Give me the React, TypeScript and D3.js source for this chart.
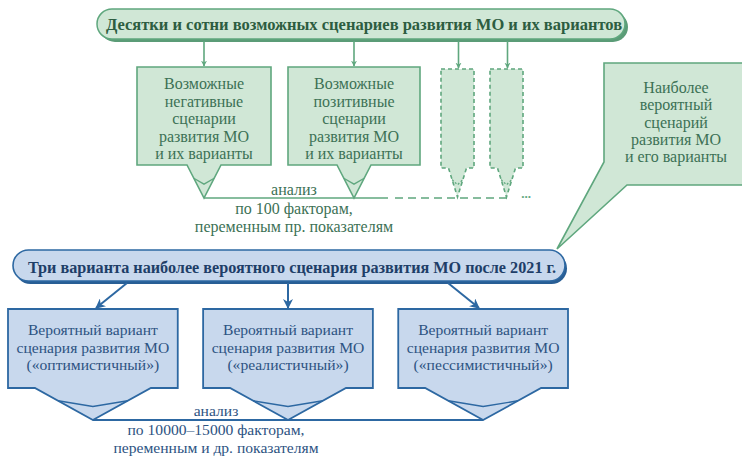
import React from 'react';
import * as d3 from 'd3';

// Texts of the scheme
const TOP_TITLE = 'Десятки и сотни возможных сценариев развития МО и их вариантов';
const GREEN_BOXES = [
  ['Возможные', 'негативные', 'сценарии', 'развития МО', 'и их варианты'],
  ['Возможные', 'позитивные', 'сценарии', 'развития МО', 'и их варианты'],
];
const DASHED_BOX_COUNT = 2;
const GREEN_ANALYSIS = ['анализ', 'по 100 факторам,', 'переменным пр. показателям'];
const CALLOUT_LINES = ['Наиболее', 'вероятный', 'сценарий', 'развития МО', 'и его варианты'];
const BOTTOM_TITLE = 'Три варианта наиболее вероятного сценария развития МО после 2021 г.';
const BLUE_BOXES = [
  ['Вероятный вариант', 'сценария развития МО', '(«оптимистичный»)'],
  ['Вероятный вариант', 'сценария развития МО', '(«реалистичный»)'],
  ['Вероятный вариант', 'сценария развития МО', '(«пессимистичный»)'],
];
const BLUE_ANALYSIS = ['анализ', 'по 10000–15000 факторам,', 'переменным и др. показателям'];

const W = 742;
const H = 456;
const FONT = "'Liberation Serif'";

const G = { fill: '#d0e7d6', stroke: '#5fa77e', text: '#3c7155', title: '#2d5d41', shadow: '#5b9c77' };
const B = { fill: '#c8d8ed', stroke: '#2d68a2', text: '#2d5382', title: '#1e3e68', shadow: '#285e95' };

const line = d3.line<[number, number]>();

// box with a pointer at the bottom, plus the little fold inside it
const pointerBox = (x0: number, x1: number, y0: number, yb: number, hw: number, tip: number) => {
  const cx = (x0 + x1) / 2;
  const outline = line([[x0, y0], [x1, y0], [x1, yb], [cx + hw, yb], [cx, tip], [cx - hw, yb], [x0, yb]]) + 'Z';
  const f = 0.4;
  const fy = yb + (tip - yb) * f;
  const fold = line([[cx - hw * (1 - f), fy], [cx, yb + (tip - yb) * 0.58], [cx + hw * (1 - f), fy]]);
  return { outline, fold, cx };
};

const Lines = ({ lines, x, y, step, color, size = 16 }: any) => (
  <g>
    {lines.map((t: string, i: number) => (
      <text key={i} x={x} y={y + i * step} textAnchor="middle" fill={color}
        fontFamily={FONT} fontSize={size}>{t}</text>
    ))}
  </g>
);

const Arrow = ({ x1, y1, x2, y2, color, id, w = 1.6 }: any) => (
  <line x1={x1} y1={y1} x2={x2} y2={y2} stroke={color} strokeWidth={w} markerEnd={`url(#${id})`} />
);

export default function App() {
  // columns of the green row
  const gx = d3.scaleOrdinal<number, [number, number]>()
    .domain([0, 1]).range([[137, 271], [288, 420]]);
  const dx = d3.scaleOrdinal<number, [number, number]>()
    .domain([0, 1]).range([[441, 474], [490, 523]]);
  // columns of the blue row
  const bx = d3.scaleBand<number>().domain([0, 1, 2]).range([8, 568]).paddingInner(0.13);

  const greenShapes = GREEN_BOXES.map((_, i) => pointerBox(gx(i)[0], gx(i)[1], 67, 165, 17, 198));
  const dashedShapes = d3.range(DASHED_BOX_COUNT).map(i => pointerBox(dx(i)[0], dx(i)[1], 69, 168, 9, 197));
  const blueShapes = BLUE_BOXES.map((_, i) => pointerBox(bx(i)!, bx(i)! + bx.bandwidth(), 309, 388, 58, 420));

  const bluePill = { x: 13, y: 250, w: 552, h: 31 };
  const greenPill = { x: 97, y: 9, w: 528, h: 30 };
  const blueArrowStarts: [number, number][] = [[127, 283], [blueShapes[1].cx, 283], [448, 283]];
  const blueArrowEnds: [number, number][] = [[96, 308], [blueShapes[1].cx, 308], [479, 308]];

  return (
    <svg width={W} height={H} style={{ position: 'absolute', left: 0, top: 0, background: '#fff' }}>
      <defs>
        <marker id="ag" viewBox="0 0 10 10" refX="9" refY="5" markerWidth="6" markerHeight="7" orient="auto" markerUnits="userSpaceOnUse">
          <path d="M0,0 L10,5 L0,10 L3,5 Z" fill={G.stroke} />
        </marker>
        <marker id="ab" viewBox="0 0 10 10" refX="9" refY="5" markerWidth="10" markerHeight="10" orient="auto" markerUnits="userSpaceOnUse">
          <path d="M0,0 L10,5 L0,10 L3,5 Z" fill={B.stroke} />
        </marker>
      </defs>

      {/* green top title */}
      <rect x={greenPill.x + 3} y={greenPill.y + 3} width={greenPill.w} height={greenPill.h} rx={greenPill.h / 2} fill={G.shadow} />
      <rect x={greenPill.x} y={greenPill.y} width={greenPill.w} height={greenPill.h} rx={greenPill.h / 2}
        fill={G.fill} stroke={G.stroke} strokeWidth={1.5} />
      <text x={greenPill.x + greenPill.w / 2 + 3} y={30} textAnchor="middle" fill={G.title}
        fontFamily={FONT} fontSize={16.5} fontWeight="bold">{TOP_TITLE}</text>

      {/* arrows down */}
      {greenShapes.map((s, i) => <Arrow key={i} x1={s.cx} y1={41} x2={s.cx} y2={66} color={G.stroke} id="ag" />)}
      {dashedShapes.map((s, i) => <Arrow key={i} x1={s.cx + 1} y1={41} x2={s.cx + 1} y2={68} color={G.stroke} id="ag" />)}

      {/* analysis line of the green row */}
      <line x1={greenShapes[0].cx} y1={198} x2={388} y2={198} stroke={G.stroke} strokeWidth={1.6} />
      <line x1={395} y1={198} x2={508} y2={198} stroke={G.stroke} strokeWidth={1.6} strokeDasharray="8,5" />
      <text x={526} y={198} textAnchor="middle" fill={G.stroke} fontFamily={FONT} fontSize={13} fontWeight="bold">...</text>

      {greenShapes.map((s, i) => (
        <g key={i}>
          <path d={s.outline} fill={G.fill} stroke={G.stroke} strokeWidth={1.6} strokeLinejoin="miter" />
          <path d={s.fold!} fill="none" stroke={G.stroke} strokeWidth={1.3} />
          <Lines lines={GREEN_BOXES[i]} x={s.cx} y={89} step={17.5} color={G.text} />
        </g>
      ))}
      {dashedShapes.map((s, i) => (
        <g key={i}>
          <path d={s.outline} fill={G.fill} stroke={G.stroke} strokeWidth={1.6} strokeDasharray="4,3" />
          <path d={s.fold!} fill="none" stroke={G.stroke} strokeWidth={1.3} strokeDasharray="2,2" />
        </g>
      ))}
      <Lines lines={GREEN_ANALYSIS} x={294} y={195} step={18.5} color={G.text} />

      {/* callout */}
      <path d={line([[604, 63], [748, 63], [748, 185], [627, 185], [557, 249], [604, 162]]) + 'Z'}
        fill={G.fill} stroke={G.stroke} strokeWidth={1.6} />
      <Lines lines={CALLOUT_LINES} x={676} y={93} step={17.3} color={G.text} />

      {/* blue title */}
      <rect x={bluePill.x + 2} y={bluePill.y + 3} width={bluePill.w} height={bluePill.h} rx={bluePill.h / 2} fill={B.shadow} />
      <rect x={bluePill.x} y={bluePill.y} width={bluePill.w} height={bluePill.h} rx={bluePill.h / 2}
        fill={B.fill} stroke={B.stroke} strokeWidth={1.6} />
      <text x={bluePill.x + bluePill.w / 2 + 3} y={273} textAnchor="middle" fill={B.title}
        fontFamily={FONT} fontSize={16.2} fontWeight="bold">{BOTTOM_TITLE}</text>

      {blueArrowStarts.map((p, i) => (
        <Arrow key={i} x1={p[0]} y1={p[1]} x2={blueArrowEnds[i][0]} y2={blueArrowEnds[i][1]} color={B.stroke} id="ab" w={2} />
      ))}

      <line x1={blueShapes[0].cx} y1={420} x2={blueShapes[2].cx} y2={420} stroke={B.stroke} strokeWidth={1.8} />
      {blueShapes.map((s, i) => (
        <g key={i}>
          <path d={s.outline} fill={B.fill} stroke={B.stroke} strokeWidth={1.8} />
          <path d={s.fold!} fill="none" stroke={B.stroke} strokeWidth={1.4} />
          <Lines lines={BLUE_BOXES[i]} x={s.cx} y={335} step={17.5} color={B.text} size={15.6} />
        </g>
      ))}
      <Lines lines={BLUE_ANALYSIS} x={216} y={416} step={18.5} color={B.text} size={15.6} />
    </svg>
  );
}
